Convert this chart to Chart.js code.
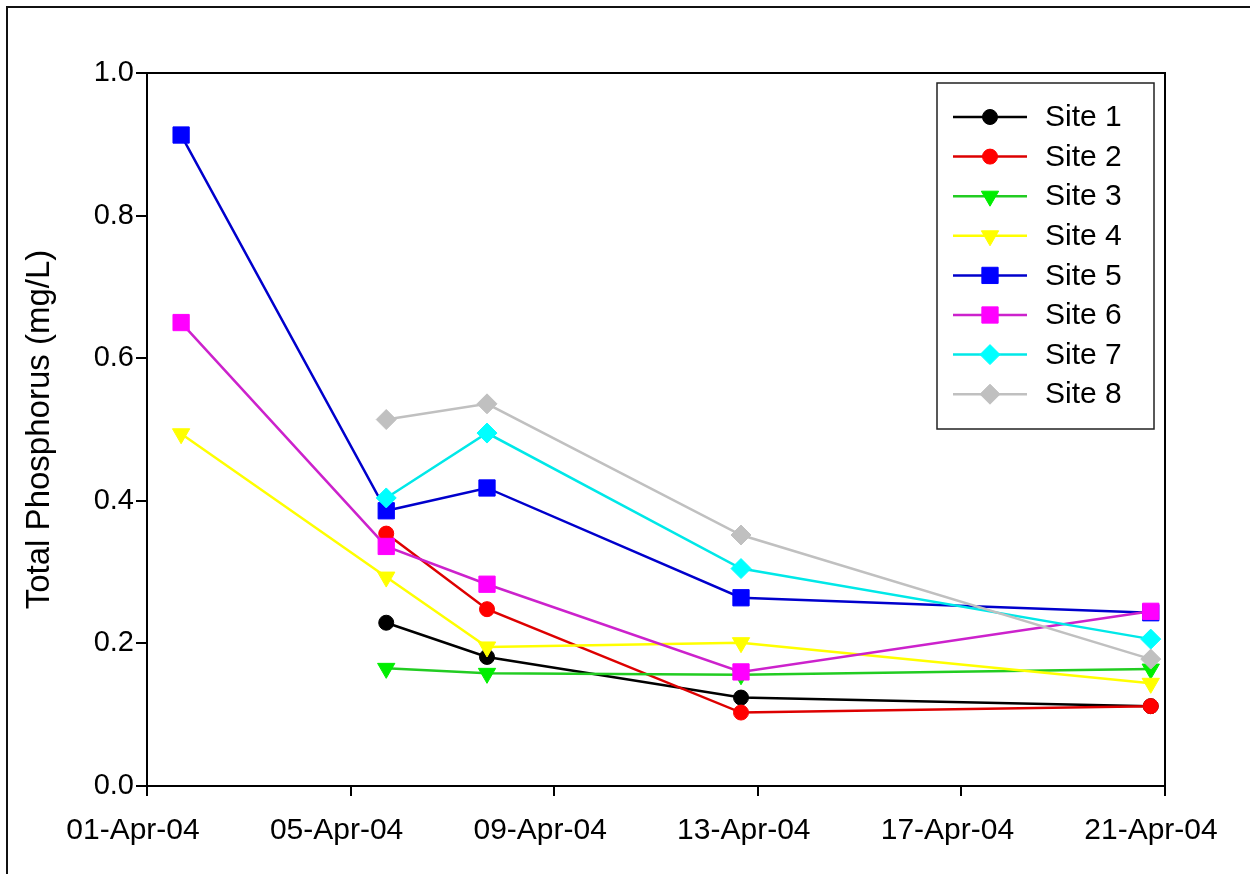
<!DOCTYPE html>
<html>
<head>
<meta charset="utf-8">
<script src="https://cdn.jsdelivr.net/npm/chart.js@4/dist/chart.umd.min.js"></script>
<style>
  html, body { margin: 0; padding: 0; background: #fff; }
  #wrap { width: 1250px; height: 874px; position: relative; }
</style>
</head>
<body>
<div id="wrap"><canvas id="c" width="1250" height="874"></canvas></div>
<script>
// ---- data (day of April 2004, sampling dates) ----
const sampleDays = [1.67, 5.70, 7.68, 12.67, 20.72];
const site1 = [null, 0.229, 0.181, 0.124, 0.112];
const site2 = [null, 0.354, 0.248, 0.103, 0.112];
const site3 = [null, 0.165, 0.158, 0.156, 0.164];
const site4 = [0.494, 0.293, 0.195, 0.201, 0.144];
const site5 = [0.913, 0.386, 0.418, 0.264, 0.243];
const site6 = [0.650, 0.336, 0.283, 0.160, 0.245];
const site7 = [null, 0.404, 0.495, 0.305, 0.206];
const site8 = [null, 0.514, 0.536, 0.352, 0.178];
const siteNames = ['Site 1','Site 2','Site 3','Site 4','Site 5','Site 6','Site 7','Site 8'];
const xTickDays = [1, 5, 9, 13, 17, 21];
const yTicks = [0.0, 0.2, 0.4, 0.6, 0.8, 1.0];
const yTitle = 'Total Phosphorus (mg/L)';

const seriesValues = [site1, site2, site3, site4, site5, site6, site7, site8];
const colors = ['#000000','#ff0000','#00ee00','#ffff00','#0000ff','#ff00ff','#00ffff','#c0c0c0'];
const lineColors = ['#000000','#dd0000','#22cc22','#ffff00','#0000cc','#cc22cc','#00e8e8','#c0c0c0'];
const styles = ['circle','circle','triangle','triangle','rect','rect','rectRot','rectRot'];
const rotations = [0,0,180,180,0,0,0,0];
const radii = [7.5,7.5,10,10,11.5,11.5,10,10];

function toPoints(vals) {
  const out = [];
  vals.forEach((v, i) => { if (v !== null) out.push({x: sampleDays[i], y: v}); });
  return out;
}

const datasets = seriesValues.map((vals, i) => ({
  label: siteNames[i],
  data: toPoints(vals),
  borderColor: lineColors[i],
  backgroundColor: colors[i],
  pointBackgroundColor: colors[i],
  pointBorderColor: colors[i],
  pointBorderWidth: 1,
  borderWidth: 2.5,
  pointStyle: styles[i],
  pointRotation: rotations[i],
  pointRadius: radii[i],
  pointHoverRadius: radii[i],
  tension: 0,
  fill: false,
  order: 8 - i
}));

const FONT = '"Liberation Sans", Arial, sans-serif';

const framePlugin = {
  id: 'frame',
  afterDraw(chart) {
    const ctx = chart.ctx;
    const a = chart.chartArea;
    ctx.save();
    // plot frame
    ctx.strokeStyle = '#000';
    ctx.lineWidth = 2;
    ctx.strokeRect(a.left, a.top, a.right - a.left, a.bottom - a.top);
    // outer figure border (top and left)
    ctx.lineWidth = 2;
    ctx.strokeStyle = '#111';
    ctx.beginPath();
    ctx.moveTo(7, 874);
    ctx.lineTo(7, 7);
    ctx.lineTo(1250, 7);
    ctx.stroke();
    // legend
    const lx = 937, ly = 83, lw = 217, lh = 346;
    ctx.fillStyle = '#fff';
    ctx.fillRect(lx, ly, lw, lh);
    ctx.strokeStyle = '#222';
    ctx.lineWidth = 1.5;
    ctx.strokeRect(lx, ly, lw, lh);
    ctx.font = '30px ' + FONT;
    ctx.textBaseline = 'middle';
    ctx.textAlign = 'left';
    chart.data.datasets.forEach((ds, i) => {
      const y = 117 + i * 39.6;
      ctx.strokeStyle = ds.borderColor;
      ctx.lineWidth = 2.5;
      ctx.beginPath();
      ctx.moveTo(953, y);
      ctx.lineTo(1027, y);
      ctx.stroke();
      ctx.fillStyle = ds.pointBackgroundColor;
      ctx.strokeStyle = ds.pointBorderColor;
      ctx.lineWidth = 1;
      Chart.helpers.drawPoint(ctx, {
        pointStyle: ds.pointStyle,
        rotation: ds.pointRotation,
        radius: ds.pointRadius,
        borderWidth: 1
      }, 990, y);
      ctx.fillStyle = '#000';
      ctx.fillText(ds.label, 1045, y + 1);
    });
    ctx.restore();
  }
};

new Chart(document.getElementById('c'), {
  type: 'line',
  data: { datasets },
  options: {
    responsive: false,
    animation: false,
    devicePixelRatio: 1,
    layout: { padding: { top: 73, right: 85, left: 0, bottom: 0 } },
    plugins: {
      legend: { display: false },
      tooltip: { enabled: false },
      title: { display: false }
    },
    scales: {
      x: {
        type: 'linear',
        min: xTickDays[0],
        max: xTickDays[xTickDays.length - 1],
        afterBuildTicks(scale) { scale.ticks = xTickDays.map(v => ({ value: v })); },
        afterFit(scale) { scale.height = 88; },
        ticks: {
          autoSkip: false,
          maxRotation: 0,
          padding: 17,
          labelOffset: -14,
          color: '#000',
          font: { family: FONT, size: 30 },
          callback: v => String(v).padStart(2, '0') + '-Apr-04'
        },
        grid: { drawOnChartArea: false, drawTicks: true, tickLength: 10, color: '#000', lineWidth: 2 },
        border: { display: true, color: '#000', width: 2 }
      },
      y: {
        type: 'linear',
        min: 0,
        max: 1,
        afterBuildTicks(scale) { scale.ticks = yTicks.map(v => ({ value: v })); },
        afterFit(scale) { scale.width = 147; },
        ticks: {
          padding: 2,
          color: '#000',
          font: { family: FONT, size: 29 },
          callback: v => Number(v).toFixed(1)
        },
        title: {
          display: true,
          text: yTitle,
          color: '#000',
          font: { family: FONT, size: 33 },
          padding: { top: 20, bottom: 0 }
        },
        grid: { drawOnChartArea: false, drawTicks: true, tickLength: 11, color: '#000', lineWidth: 2 },
        border: { display: true, color: '#000', width: 2 }
      }
    }
  },
  plugins: [framePlugin]
});
</script>
</body>
</html>
